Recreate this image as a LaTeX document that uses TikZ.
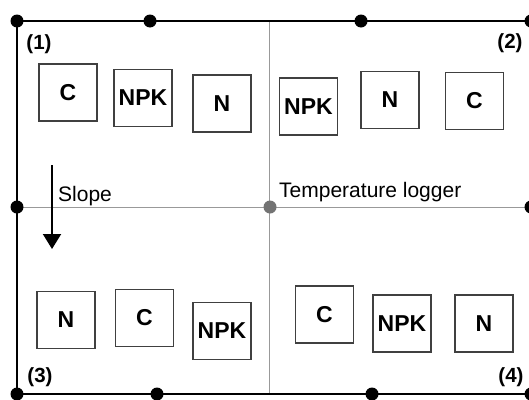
\documentclass[tikz,border=0pt]{standalone}
\usepackage{fontspec}
\setmainfont{Liberation Sans}
\usetikzlibrary{arrows.meta}
\tikzset{
  plot/.style={draw=black!75, line width=1.3pt, fill=white, minimum width=58pt, minimum height=57pt, inner sep=0pt, font=\fontsize{23}{27}\selectfont\bfseries},
  qlabel/.style={inner sep=0pt, font=\fontsize{20.5}{24}\selectfont\bfseries},
  plain/.style={inner sep=0pt, font=\fontsize{21}{25}\selectfont},
  post/.style={circle, fill=black, inner sep=0pt, minimum size=13pt},
  logger/.style={circle, fill=black!55, inner sep=0pt, minimum size=13pt},
  frame/.style={line width=2.8pt, black},
  grid/.style={line width=1pt, black!40}
}
\begin{document}
\begin{tikzpicture}[x=1pt,y=-1pt]
\useasboundingbox (0,0) rectangle (529,399);
\fill[white] (0,0) rectangle (529,399);
% corner and edge coordinates
\coordinate (TL) at (17,21);
\coordinate (TR) at (531,21);
\coordinate (BL) at (17,394);
\coordinate (BR) at (531,394);
\coordinate (TM) at (269,21);
\coordinate (BM) at (269,394);
\coordinate (LM) at (17,207);
\coordinate (RM) at (531,207);
% inner gray lines
\draw[grid] (TM) -- (BM);
\draw[grid] (LM) -- (RM);
% frame
\draw[frame] (TL) -- (TR) -- (BR) -- (BL) -- cycle;
% posts
\node[post] (p1) at (TL) {};
\node[post] (p2) at (150,21) {};
\node[post] (p3) at (361,21) {};
\node[post] (p4) at (TR) {};
\node[post] (p5) at (LM) {};
\node[post] (p6) at (RM) {};
\node[post] (p7) at (BL) {};
\node[post] (p8) at (157,394) {};
\node[post] (p9) at (372,394) {};
\node[post] (p10) at (BR) {};
\node[logger] (lg) at (270,207) {};
% quadrant labels
\node[qlabel] (q1) at (39,44) {(1)};
\node[qlabel] (q2) at (510,43) {(2)};
\node[qlabel] (q3) at (40,377) {(3)};
\node[qlabel] (q4) at (511,377) {(4)};
% plots
\node[plot] (a1) at (68,92.5) {C};
\node[plot] (a2) at (143,98) {NPK};
\node[plot] (a3) at (222,103.5) {N};
\node[plot] (b1) at (308.5,106.5) {NPK};
\node[plot] (b2) at (390,100) {N};
\node[plot] (b3) at (474.5,101) {C};
\node[plot] (c1) at (66,320) {N};
\node[plot] (c2) at (144.5,318) {C};
\node[plot] (c3) at (222,331) {NPK};
\node[plot] (d1) at (324.5,314.5) {C};
\node[plot] (d2) at (402,323.5) {NPK};
\node[plot] (d3) at (484,323.5) {N};
% texts
\node[plain, anchor=base west] (tl) at (279,197) {Temperature logger};
\node[plain, anchor=base west] (sl) at (58,201.5) {Slope};
% slope arrow
\coordinate (s0) at (52,165);
\coordinate (s1) at (52,249);
\draw[line width=2pt, -{Triangle[width=18pt,length=15pt]}] (s0) -- (s1);
\end{tikzpicture}
\end{document}
